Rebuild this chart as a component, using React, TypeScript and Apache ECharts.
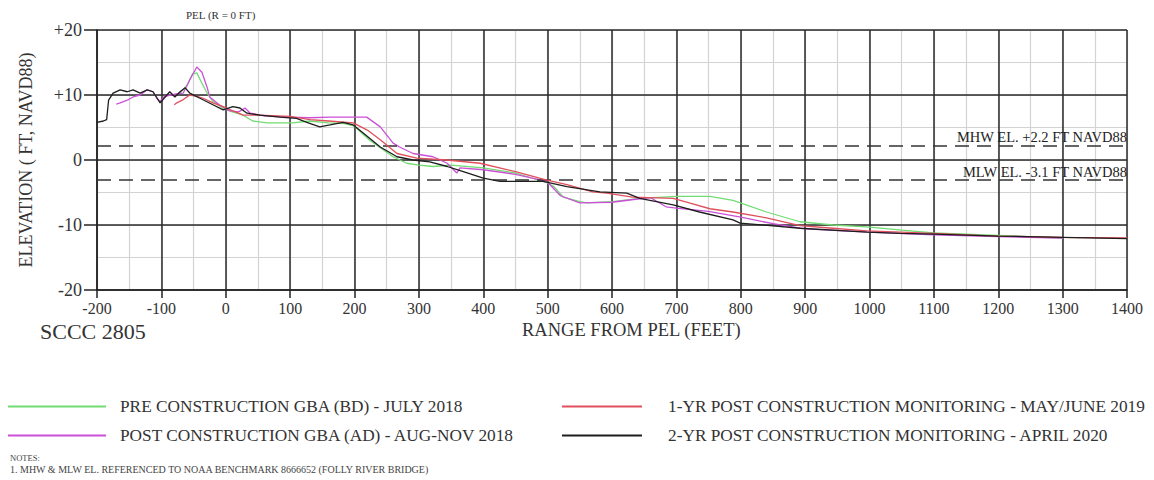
import React, { useEffect, useRef } from "react";
import * as echarts from "echarts";

const xTicks = [-200, 1400, 100];
const xMinorStep = 50;
const yTicks = [-20, 20, 10];
const yMinorStep = 5;

const seriesNames = [
  "PRE CONSTRUCTION GBA (BD) - JULY 2018",
  "POST CONSTRUCTION GBA (AD) - AUG-NOV 2018",
  "1-YR POST CONSTRUCTION MONITORING - MAY/JUNE 2019",
  "2-YR POST CONSTRUCTION MONITORING - APRIL 2020",
];
const seriesColors = ["#72dc72", "#cc4fd8", "#e0505c", "#1e1e1e"];

const preConstruction = [
  [-71, 10.3], [-60, 11.5], [-52, 13.2], [-45, 13.4], [-38, 12], [-29, 10.3], [-20, 9],
  [-5, 8], [10, 7.4], [25, 7.0], [42, 6.0], [64, 5.7], [104, 5.7], [130, 6.0], [160, 5.7],
  [185, 5.6], [200, 5.2], [224, 3.0], [260, 0.5], [281, -0.5], [300, -0.8], [322, -1.0],
  [350, -0.8], [400, -1.2], [450, -2.0], [499, -3.5], [510, -4.1], [524, -5.7], [550, -6.4],
  [561, -6.6], [601, -6.4], [643, -5.9], [700, -5.6], [752, -5.6], [788, -6.2], [840, -8.0],
  [892, -9.5], [943, -10.0], [996, -10.3], [1050, -10.8], [1100, -11.2], [1200, -11.6], [1300, -12.0],
];

const postConstruction = [
  [-170, 8.6], [-164, 8.8], [-153, 9.2], [-144, 9.7], [-133, 10], [-122, 10.8], [-113, 10.5],
  [-107, 9.5], [-102, 9.0], [-95, 9.8], [-85, 10], [-75, 10.2], [-66, 10.3], [-55, 12.5],
  [-45, 14.3], [-37, 13.5], [-29, 11.2], [-25, 9.7], [-10, 8.5], [5, 7.6], [20, 7.4], [30, 8.0],
  [38, 7.2], [60, 6.8], [100, 6.6], [130, 6.5], [162, 6.6], [219, 6.6], [240, 5.1], [260, 2.6],
  [270, 2.0], [291, 1.0], [322, 0.5], [344, -0.5], [359, -2.0], [364, -1.2], [400, -1.5],
  [450, -2.2], [499, -3.3], [520, -5.5], [550, -6.6], [600, -6.5], [640, -6.0], [660, -5.8],
  [684, -7.2], [700, -7.4], [750, -7.9], [800, -8.8], [850, -9.8], [900, -10.6], [1000, -11.1],
  [1100, -11.5], [1200, -11.8], [1300, -12.0],
];

const oneYearMonitoring = [
  [-80, 8.5], [-76, 8.8], [-66, 9.3], [-56, 10], [-45, 9.8], [-35, 9.5], [-20, 8.8], [-4, 8.2],
  [10, 7.6], [27, 6.9], [50, 6.9], [100, 6.7], [131, 6.2], [160, 6.0], [198, 5.7], [220, 4.6],
  [240, 3.1], [266, 1.0], [297, 0.3], [344, 0], [395, -0.5], [450, -1.8], [499, -3.1],
  [530, -3.8], [570, -4.9], [592, -5.1], [632, -5.7], [695, -5.9], [720, -6.6], [752, -7.5],
  [788, -8.0], [840, -8.9], [892, -10.1], [943, -10.5], [996, -10.9], [1100, -11.3],
  [1200, -11.7], [1300, -11.9], [1400, -12.0],
];

const twoYearMonitoring = [
  [-200, 5.8], [-190, 6.0], [-185, 6.2], [-182, 9.2], [-175, 10.3], [-164, 10.8], [-153, 10.5],
  [-144, 10.8], [-133, 10.3], [-122, 10.8], [-113, 10.5], [-102, 8.8], [-94, 9.7], [-87, 10.5],
  [-79, 9.7], [-71, 10.5], [-63, 11.1], [-56, 10.3], [-40, 9.5], [-20, 8.5], [-4, 7.7],
  [11, 8.2], [22, 8.0], [33, 7.2], [53, 6.9], [84, 6.6], [110, 6.4], [126, 5.8], [146, 5.1],
  [162, 5.4], [182, 5.8], [198, 5.4], [213, 4.2], [240, 2.0], [266, 0.5], [291, 0], [317, -0.3],
  [344, -1.0], [369, -1.8], [400, -2.8], [426, -3.3], [493, -3.3], [530, -4.1], [581, -4.9],
  [623, -5.1], [643, -5.9], [695, -6.9], [736, -8.0], [788, -9.2], [799, -9.7], [892, -10.5],
  [996, -11.1], [1047, -11.3], [1100, -11.4], [1200, -11.7], [1300, -11.9], [1400, -12.1],
];

const tideLevels = [2.2, -3.1];
const tideLabels = ["MHW EL. +2.2 FT NAVD88", "MLW EL. -3.1 FT NAVD88"];

const allSeriesData = [preConstruction, postConstruction, oneYearMonitoring, twoYearMonitoring];

const SERIF = "'Liberation Serif', 'DejaVu Serif', serif";

export default function App() {
  const ref = useRef<HTMLDivElement>(null);

  useEffect(() => {
    if (!ref.current) return;
    const chart = echarts.init(ref.current, undefined, { renderer: "svg" });

    const series: any[] = allSeriesData.map((d, i) => ({
      name: seriesNames[i],
      type: "line",
      xAxisIndex: 0,
      yAxisIndex: 0,
      data: d,
      showSymbol: false,
      symbol: "none",
      lineStyle: { color: seriesColors[i], width: 1.3 },
      itemStyle: { color: seriesColors[i] },
      z: 3 + i,
    }));

    series[3].markLine = {
      silent: true,
      symbol: "none",
      lineStyle: { type: [14, 8], color: "#333", width: 1.5 },
      label: {
        show: true,
        position: "insideEndTop",
        distance: [0, 1],
        fontFamily: SERIF,
        fontSize: 14.5,
        color: "#222",
      },
      data: tideLevels.map((v, i) => ({
        yAxis: v,
        label: { formatter: tideLabels[i] },
      })),
    };

    // empty helper series so the minor-grid axes are bound to a series
    series.push({
      name: "minor-grid",
      type: "line",
      xAxisIndex: 1,
      yAxisIndex: 1,
      data: [],
      silent: true,
    });

    const legendPos = [
      { left: 8, top: 398 },
      { left: 8, top: 427 },
      { left: 562, top: 398 },
      { left: 562, top: 427 },
    ];
    const legendWidths = [98, 98, 80, 80];
    const legendTextGap = [9, 9, 21, 21];

    const minorAxisCommon = {
      type: "value",
      show: true,
      axisLine: { show: false },
      axisTick: { show: false },
      axisLabel: { show: false },
      splitLine: { show: true, lineStyle: { color: "#d3d3d3", width: 1.2 } },
      z: 1,
    };

    const option: any = {
      animation: false,
      backgroundColor: "#ffffff",
      grid: { left: 97, right: 27, top: 30, height: 260, containLabel: false },
      legend: seriesNames.map((n, i) => ({
        data: [n],
        left: legendPos[i].left,
        top: legendPos[i].top,
        icon: "rect",
        itemWidth: legendWidths[i],
        itemHeight: 2,
        padding: 0,
        selectedMode: false,
        textStyle: {
          fontFamily: SERIF,
          fontSize: 17.3,
          color: "#333",
          padding: [0, 0, 0, legendTextGap[i]],
        },
      })),
      xAxis: [
        {
          type: "value",
          min: xTicks[0],
          max: xTicks[1],
          interval: xTicks[2],
          z: 2,
          axisLine: { show: true, onZero: false, lineStyle: { color: "#222", width: 1.5 } },
          axisTick: { show: true, length: 8, lineStyle: { color: "#222", width: 1.5 } },
          axisLabel: {
            fontFamily: SERIF,
            fontSize: 16,
            color: "#333",
            margin: 10,
            formatter: (v: number) => String(v),
          },
          splitLine: { show: true, lineStyle: { color: "#2a2a2a", width: 1.5 } },
        },
        {
          ...minorAxisCommon,
          min: xTicks[0],
          max: xTicks[1],
          interval: xMinorStep,
          position: "top",
        },
      ],
      yAxis: [
        {
          type: "value",
          min: yTicks[0],
          max: yTicks[1],
          interval: yTicks[2],
          z: 2,
          name: "ELEVATION ( FT, NAVD88)",
          nameLocation: "middle",
          nameRotate: 90,
          nameGap: 62,
          nameTextStyle: { fontFamily: SERIF, fontSize: 18, color: "#333" },
          axisLine: { show: true, onZero: false, lineStyle: { color: "#222", width: 1.5 } },
          axisTick: { show: true, length: 13, lineStyle: { color: "#222", width: 1.5 } },
          axisLabel: {
            fontFamily: SERIF,
            fontSize: 18,
            color: "#333",
            margin: 15,
            formatter: (v: number) => (v > 0 ? "+" + v : String(v)),
          },
          splitLine: { show: true, lineStyle: { color: "#2a2a2a", width: 1.5 } },
        },
        {
          ...minorAxisCommon,
          min: yTicks[0],
          max: yTicks[1],
          interval: yMinorStep,
          position: "right",
        },
      ],
      graphic: [
        {
          type: "text",
          left: 186,
          top: 9,
          style: { text: "PEL (R = 0 FT)", fontFamily: SERIF, fontSize: 11, fill: "#333" },
        },
        {
          type: "text",
          left: 522,
          top: 320,
          style: { text: "RANGE FROM PEL (FEET)", fontFamily: SERIF, fontSize: 18.5, fill: "#333" },
        },
        {
          type: "text",
          left: 40,
          top: 320,
          style: { text: "SCCC 2805", fontFamily: SERIF, fontSize: 22, fill: "#333" },
        },
        {
          type: "text",
          left: 10,
          top: 453,
          style: { text: "NOTES:", fontFamily: SERIF, fontSize: 8.5, fill: "#444" },
        },
        {
          type: "text",
          left: 10,
          top: 464,
          style: {
            text: "1. MHW & MLW EL. REFERENCED TO NOAA BENCHMARK 8666652 (FOLLY RIVER BRIDGE)",
            fontFamily: SERIF,
            fontSize: 10,
            fill: "#444",
          },
        },
      ],
      series,
    };

    chart.setOption(option);
    return () => chart.dispose();
  }, []);

  return (
    <div
      ref={ref}
      style={{ position: "fixed", left: 0, top: 0, width: 1154, height: 480, background: "#fff" }}
    />
  );
}
